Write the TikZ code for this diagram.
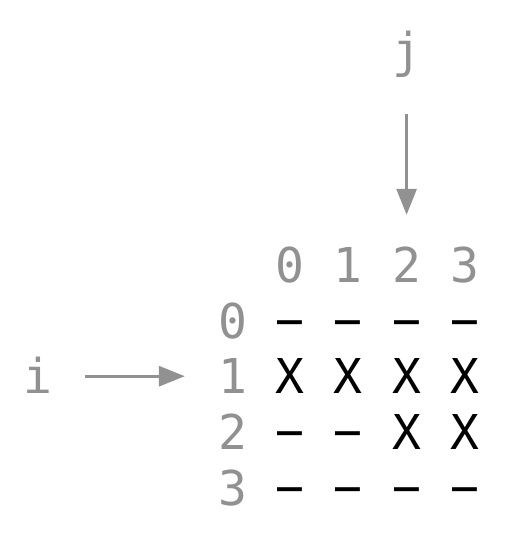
\documentclass[tikz,border=0pt]{standalone}
\usepackage{fontspec}
\newfontfamily\gridfont{DejaVu Sans Mono}
\definecolor{idxgray}{RGB}{145, 145, 145}
\usetikzlibrary{arrows.meta}
\newcommand{\gap}{\scalebox{0.86}[1.2]{–}}
\tikzset{
    cell/.style={font=\gridfont\fontsize{48}{58}\selectfont, anchor=base,
        inner sep=3pt, text height=35pt, text depth=0pt},
    index/.style={cell, text=idxgray},
    pointer/.style={-{Triangle[length=26pt, width=20pt]}, idxgray,
        line width=3pt},
}
\begin{document}
\begin{tikzpicture}[x=1pt, y=-1pt]
            \useasboundingbox (0, 0) rectangle (504, 540);
            \foreach \c in {0, 1, 2, 3} {
                \node[index] (c\c) at (290 + 58.3*\c, 282) {\c};
                \node[index] (r\c) at (233, 338 + 55.7*\c) {\c};
            }
            \foreach \row/\marks in {0/{\gap,\gap,\gap,\gap}, 1/{X,X,X,X},
                2/{\gap,\gap,X,X}, 3/{\gap,\gap,\gap,\gap}} {
                \foreach \sym [count=\c from 0] in \marks {
                    \node[cell] (m\row\c) at (290 + 58.3*\c, 338 + 55.7*\row)
                        {\sym};
                }
            }
            \node[index] (j) at (406.6, 68) {j};
            \node[index] (i) at (38, 393.7) {i};
            \draw[pointer, shorten <=43pt, shorten >=29pt] (j) -- (c2);
            \draw[pointer, shorten <=29.5pt, shorten >=30.5pt] (i) -- (r1);
        \end{tikzpicture}
\end{document}
